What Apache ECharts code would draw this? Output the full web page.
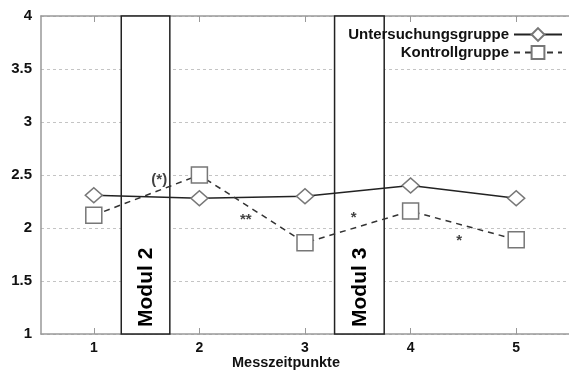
<!DOCTYPE html>
<html><head><meta charset="utf-8">
<script src="https://cdn.jsdelivr.net/npm/echarts@6/dist/echarts.min.js"></script>
<style>html,body{margin:0;padding:0;background:#fff}#c{width:569px;height:370px}</style>
</head><body><div id="c"></div>
<script>
const timePoints = [1, 2, 3, 4, 5];
const untersuchung = [2.31, 2.28, 2.30, 2.40, 2.28];
const kontroll = [2.12, 2.50, 1.86, 2.16, 1.89];
const yTicks = [1, 1.5, 2, 2.5, 3, 3.5, 4];
const moduleStart = [1.26, 3.28];
const moduleEnd = [1.72, 3.75];
const moduleLabels = ['Modul 2', 'Modul 3'];
const sigX = [1.62, 2.44, 3.46, 4.46];
const sigY = [2.45, 2.08, 2.10, 1.88];
const sigLabels = ['(*)', '**', '*', '*'];

const FONT = '"Liberation Sans", Arial, sans-serif';
const chart = echarts.init(document.getElementById('c'), null, {renderer: 'canvas'});
const frame = '#999';
chart.setOption({
  animation: false,
  backgroundColor: '#fff',
  grid: {left: 41, right: -2, top: 16, bottom: 36},
  legend: {
    orient: 'vertical', right: 6, top: 27, align: 'right',
    itemWidth: 48, itemHeight: 16, itemGap: 3, padding: 0,
    textStyle: {fontFamily: FONT, fontWeight: 'bold', fontSize: 15, color: '#111'},
    data: ['Untersuchungsgruppe', 'Kontrollgruppe']
  },
  graphic: [{
    type: 'text', left: 232, top: 355,
    style: {text: 'Messzeitpunkte', font: 'bold 14.5px ' + FONT, fill: '#111'}
  }],
  xAxis: [{
    type: 'value', min: 0.5, max: 5.5, interval: 0.5, position: 'bottom',
    axisLine: {lineStyle: {color: frame, width: 1.5}},
    axisTick: {inside: true, length: 6, customValues: timePoints, lineStyle: {color: frame}},
    axisLabel: {customValues: timePoints, margin: 7, fontFamily: FONT, fontWeight: 'bold', fontSize: 14, color: '#111'},
    splitLine: {show: false}
  }, {
    type: 'value', min: 0.5, max: 5.5, interval: 0.5, position: 'top',
    axisLine: {lineStyle: {color: frame, width: 1.5}},
    axisTick: {inside: true, length: 6, customValues: timePoints, lineStyle: {color: frame}},
    axisLabel: {show: false},
    splitLine: {show: false}
  }],
  yAxis: [{
    type: 'value', min: 1, max: 4, interval: 0.5,
    axisLine: {show: true, lineStyle: {color: frame, width: 1.5}},
    axisTick: {show: false},
    axisLabel: {margin: 9, fontFamily: FONT, fontWeight: 'bold', fontSize: 15, color: '#111',
      formatter: v => yTicks.includes(v) ? String(v) : ''},
    splitLine: {show: true, lineStyle: {color: '#c4c4c4', type: [3, 3], width: 1}}
  }],
  series: [{
    type: 'custom', z: 1, silent: true,
    data: moduleStart.map((s, i) => [s, moduleEnd[i]]),
    encode: {x: [0, 1]},
    renderItem: function (params, api) {
      const p0 = api.coord([api.value(0), 4]);
      const p1 = api.coord([api.value(1), 1]);
      return {type: 'group', children: [
        {type: 'rect', shape: {x: p0[0], y: p0[1], width: p1[0] - p0[0], height: p1[1] - p0[1]},
         style: {fill: '#fff', stroke: '#222', lineWidth: 1.5}},
        {type: 'text', x: (p0[0] + p1[0]) / 2 + 1, y: p1[1] - 7, rotation: Math.PI / 2,
         style: {text: moduleLabels[params.dataIndex], font: 'bold 21px ' + FONT, fill: '#000',
                 align: 'left', verticalAlign: 'middle'}}
      ]};
    }
  }, {
    name: 'Untersuchungsgruppe', type: 'line', z: 3,
    data: timePoints.map((x, i) => [x, untersuchung[i]]),
    symbol: 'diamond', symbolSize: [17, 15],
    itemStyle: {color: '#fff', borderColor: '#777', borderWidth: 1.5},
    lineStyle: {color: '#222', width: 1.5}
  }, {
    name: 'Kontrollgruppe', type: 'line', z: 3,
    data: timePoints.map((x, i) => [x, kontroll[i]]),
    symbol: 'rect', symbolSize: 16,
    itemStyle: {color: '#fff', borderColor: '#777', borderWidth: 1.5},
    lineStyle: {color: '#333', width: 1.5, type: [6, 5]}
  }, {
    type: 'scatter', z: 4, silent: true, symbolSize: 0,
    data: sigX.map((x, i) => [x, sigY[i]]),
    label: {show: true, position: 'inside', formatter: p => sigLabels[p.dataIndex],
      fontFamily: FONT, fontWeight: 'bold', fontSize: 15, color: '#111'}
  }]
});
</script></body></html>
